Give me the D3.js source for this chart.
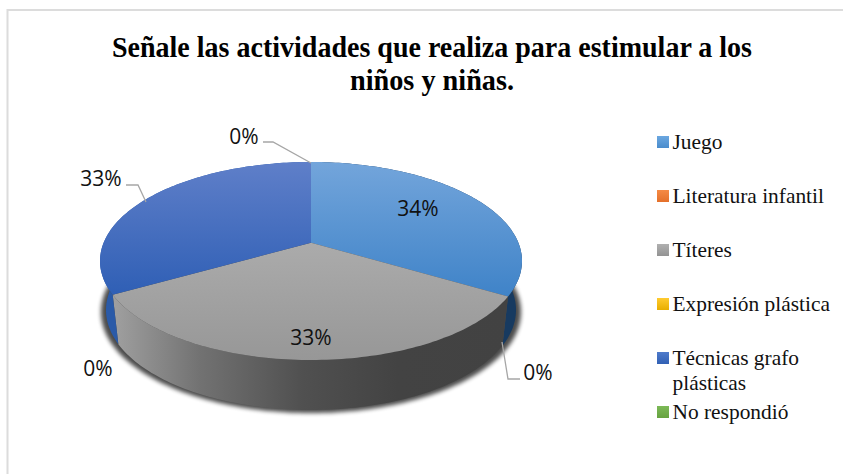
<!DOCTYPE html>
<html><head><meta charset="utf-8">
<script src="https://cdn.jsdelivr.net/npm/d3@7"></script>
<style>html,body{margin:0;padding:0;background:#fff}svg{display:block}</style>
</head><body><svg id="c" width="843" height="474"></svg>
<script>
const categories = ["Juego","Literatura infantil","Títeres","Expresión plástica","Técnicas grafo plásticas","No respondió"];
const values = [33.5,0,33.25,0,33.25,0];
const titleLines = ["Señale las actividades que realiza para estimular a los","niños y niñas."];
const titleWidths = [640,164];
const labelTexts = ["34%","0%","33%","0%","33%","0%"];

const svg = d3.select("#c");
const defs = svg.append("defs");
function grad(id, stops, x2, y2){
  const g = defs.append("linearGradient").attr("id",id).attr("x1",0).attr("y1",0).attr("x2",x2).attr("y2",y2);
  stops.forEach(s=>g.append("stop").attr("offset",s[0]).attr("stop-color",s[1]));
}
grad("t0",[[0,"#73a5db"],[1,"#3f83c8"]],0,1);
grad("t2",[[0,"#ababab"],[1,"#979797"]],0,1);
grad("t4",[[0,"#5f7fc9"],[1,"#2f5fb5"]],0,1);
grad("s2",[[0,"#a0a0a0"],[0.22,"#727272"],[0.48,"#505050"],[0.72,"#434343"],[1,"#424242"]],1,0);
grad("l0",[[0,"#6ba7e0"],[1,"#4a8ccc"]],0,1);
grad("l1",[[0,"#f58a45"],[1,"#e4702a"]],0,1);
grad("l2",[[0,"#b0b0b0"],[1,"#939393"]],0,1);
grad("l3",[[0,"#ffcb30"],[1,"#e8ae00"]],0,1);
grad("l4",[[0,"#4f7bcb"],[1,"#3160b4"]],0,1);
grad("l5",[[0,"#7cb957"],[1,"#66a23f"]],0,1);
defs.append("filter").attr("id","blur").attr("x","-10%").attr("y","-10%").attr("width","120%").attr("height","120%")
  .append("feGaussianBlur").attr("stdDeviation",2);

// frame
svg.append("rect").attr("x",7.5).attr("y",10).attr("width",900).attr("height",600)
  .attr("fill","#fff").attr("stroke","#dcdcdc").attr("stroke-width",2);

// title
svg.append("g").selectAll("text").data(titleLines).join("text")
  .attr("class","title").attr("x",432).attr("y",(d,i)=>57+i*33)
  .attr("text-anchor","middle").attr("font-family","'Liberation Serif'").attr("font-weight","bold")
  .attr("font-size",30).attr("textLength",(d,i)=>titleWidths[i]).attr("lengthAdjust","spacingAndGlyphs")
  .attr("fill","#000").text(d=>d);

// pie projected through a perspective map of the unit disc
const pie = d3.pie().sort(null).value(d=>d)(values);
const P = -0.185;
function proj(a, e){
  const u = Math.sin(a), v = -Math.cos(a);
  const d = 1 + P*v;
  return [e.cx + e.rx*u*Math.sqrt(1-P*P)/d, e.cy + e.ry*(v+P)/d];
}
const topE = {cx:311, cy:261, rx:211, ry:99};
const botE = {cx:311, cy:310, rx:205, ry:100};
const apex = [311, topE.cy + topE.ry*P];
const line = d3.line();
function arcPts(a0,a1,e){
  const n = Math.max(2, Math.ceil((a1-a0)/0.02));
  return d3.range(n+1).map(i=>proj(a0+(a1-a0)*i/n, e));
}
const full = 2*Math.PI;
// shadow
svg.append("path").attr("d",line(arcPts(0,full,{cx:311,cy:312,rx:210,ry:101}))+"Z")
  .attr("fill","#000").attr("opacity",0.7).attr("filter","url(#blur)");
// walls
const wallFill = {0:"#173a60",2:"url(#s2)",4:"#2a5aa8"};
const walls = pie.map((d,i)=>({d,i})).filter(o=>o.d.value>0);
svg.append("g").selectAll("path").data(walls).join("path")
  .attr("d",o=>line(arcPts(o.d.startAngle,o.d.endAngle,topE).concat(arcPts(o.d.startAngle,o.d.endAngle,botE).reverse()))+"Z")
  .attr("fill",o=>wallFill[o.i]);
// top faces
svg.append("g").selectAll("path").data(walls).join("path")
  .attr("d",o=>line([apex].concat(arcPts(o.d.startAngle,o.d.endAngle,topE)))+"Z")
  .attr("fill",o=>"url(#t"+o.i+")");

// leaders
const leaderPts = [
  [[263,142],[273,142],[311,163]],
  [[126,185],[138,185],[146,202]],
  [[502,342],[508,379],[520,379]]
];
svg.append("g").selectAll("path").data(leaderPts).join("path")
  .attr("d",d=>line(d)).attr("fill","none").attr("stroke","#a6a6a6").attr("stroke-width",1.3);

// data labels; keyed by slice index
const labelPos = [[418,208],[538,372],[311,337],[98,368],[101,178],[244,136]];
svg.append("g").selectAll("text").data(labelTexts).join("text")
  .attr("class","dl").attr("x",(d,i)=>labelPos[i][0]).attr("y",(d,i)=>labelPos[i][1])
  .attr("text-anchor","middle").attr("dominant-baseline","central")
  .attr("font-family","'Open Sans'").attr("font-size",21).attr("fill","#111").text(d=>d);

// legend
const legendY = [142,196,250,304,358,412];
const legendLines = [["Juego"],["Literatura infantil"],["Títeres"],["Expresión plástica"],["Técnicas grafo","plásticas"],["No respondió"]];
const leg = svg.append("g").selectAll("g").data(categories).join("g");
leg.append("rect").attr("x",657).attr("y",(d,i)=>legendY[i]-6).attr("width",12).attr("height",12)
  .attr("fill",(d,i)=>"url(#l"+i+")");
leg.each(function(d,i){
  d3.select(this).selectAll("text").data(legendLines[i]).join("text")
    .attr("x",672.5).attr("y",(t,j)=>legendY[i]+6.6+j*25)
    .attr("font-family","'Liberation Serif'").attr("font-size",21.4).attr("fill","#111").text(t=>t);
});
</script></body></html>
